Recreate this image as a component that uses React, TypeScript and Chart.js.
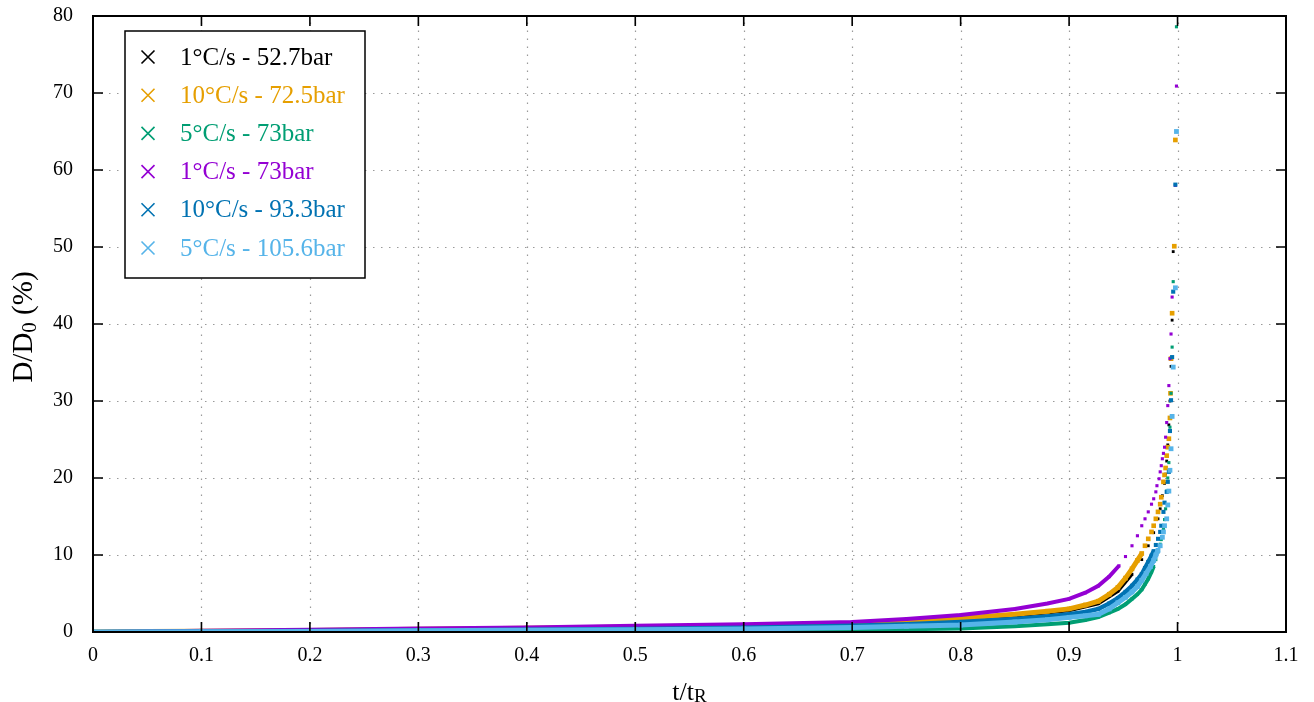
import React, { useEffect, useRef } from "react";
import { Chart, registerables } from "chart.js";

Chart.register(...registerables);

// ---------------- data ----------------
const seriesLabels = [
  "1°C/s - 52.7bar",
  "10°C/s - 72.5bar",
  "5°C/s - 73bar",
  "1°C/s - 73bar",
  "10°C/s - 93.3bar",
  "5°C/s - 105.6bar",
];

const xTickValues = [0, 0.1, 0.2, 0.3, 0.4, 0.5, 0.6, 0.7, 0.8, 0.9, 1, 1.1];
const yTickValues = [0, 10, 20, 30, 40, 50, 60, 70, 80];

// 1°C/s - 52.7bar
const blackT = [0, 0.1, 0.2, 0.3, 0.4, 0.5, 0.6, 0.7, 0.8, 0.85, 0.9, 0.927, 0.945, 0.958, 0.967, 0.973, 0.978, 0.982, 0.984, 0.986, 0.988, 0.989, 0.99, 0.991, 0.992, 0.993, 0.994, 0.995, 0.996];
const blackD = [0, 0.08, 0.18, 0.3, 0.42, 0.58, 0.75, 1.0, 1.6, 2.1, 2.8, 3.7, 5.3, 7.5, 9.4, 11.2, 12.9, 14.7, 16.0, 17.7, 19.3, 20.5, 22.2, 24.3, 26.9, 30.0, 34.5, 40.5, 49.4];

// 10°C/s - 72.5bar
const orangeT = [0, 0.05, 0.1, 0.2, 0.3, 0.4, 0.5, 0.6, 0.7, 0.75, 0.8, 0.85, 0.88, 0.9, 0.915, 0.927, 0.937, 0.945, 0.952, 0.958, 0.963, 0.967, 0.97, 0.973, 0.976, 0.978, 0.98, 0.982, 0.984, 0.985, 0.987, 0.988, 0.989, 0.99, 0.991, 0.992, 0.993, 0.9935, 0.994, 0.995, 0.997, 0.998];
const orangeD = [0, 0.05, 0.1, 0.2, 0.35, 0.5, 0.65, 0.8, 1.1, 1.4, 1.8, 2.3, 2.7, 3.0, 3.5, 4.0, 4.9, 5.8, 7.0, 8.2, 9.3, 10.2, 11.2, 12.1, 13.0, 13.8, 14.7, 15.6, 16.6, 17.5, 19.5, 20.4, 21.3, 22.9, 24.0, 25.1, 27.8, 31.0, 35.5, 41.4, 50.1, 63.9];

// 5°C/s - 73bar
const greenT = [0, 0.1, 0.2, 0.3, 0.4, 0.5, 0.6, 0.7, 0.75, 0.8, 0.85, 0.88, 0.9, 0.915, 0.927, 0.937, 0.945, 0.952, 0.958, 0.963, 0.967, 0.97, 0.973, 0.976, 0.978, 0.98, 0.982, 0.984, 0.985, 0.987, 0.988, 0.989, 0.99, 0.991, 0.992, 0.993, 0.994, 0.995, 0.996, 0.999];
const greenD = [0, 0.02, 0.05, 0.08, 0.1, 0.15, 0.2, 0.27, 0.35, 0.45, 0.75, 1.0, 1.2, 1.55, 1.95, 2.5, 3.0, 3.6, 4.3, 4.9, 5.5, 6.2, 6.9, 7.8, 8.5, 9.4, 10.4, 11.4, 12.0, 13.4, 14.6, 16.0, 18.3, 20.0, 22.0, 26.6, 31.0, 37.0, 45.5, 78.6];

// 1°C/s - 73bar
const purpleT = [0, 0.05, 0.1, 0.2, 0.3, 0.4, 0.5, 0.6, 0.7, 0.75, 0.8, 0.85, 0.88, 0.9, 0.915, 0.927, 0.937, 0.946, 0.952, 0.958, 0.963, 0.967, 0.97, 0.973, 0.976, 0.978, 0.98, 0.981, 0.983, 0.984, 0.985, 0.986, 0.987, 0.988, 0.989, 0.99, 0.991, 0.992, 0.993, 0.994, 0.995, 0.998, 0.999];
const purpleD = [0, 0.08, 0.15, 0.3, 0.45, 0.6, 0.8, 1.0, 1.3, 1.7, 2.2, 3.0, 3.7, 4.3, 5.1, 6.0, 7.2, 8.6, 9.8, 11.2, 12.5, 13.8, 14.7, 15.6, 16.6, 17.3, 18.2, 19.0, 19.9, 20.8, 21.6, 22.5, 23.2, 24.0, 25.3, 27.2, 29.4, 32.0, 35.5, 38.7, 43.5, 58.0, 70.9];

// 10°C/s - 93.3bar
const blueT = [0, 0.1, 0.2, 0.3, 0.4, 0.5, 0.6, 0.7, 0.75, 0.8, 0.85, 0.88, 0.9, 0.915, 0.927, 0.937, 0.945, 0.952, 0.958, 0.963, 0.967, 0.97, 0.973, 0.976, 0.978, 0.98, 0.982, 0.984, 0.985, 0.987, 0.988, 0.99, 0.991, 0.992, 0.993, 0.994, 0.995, 0.996, 0.998];
const blueD = [0, 0.05, 0.12, 0.2, 0.3, 0.4, 0.55, 0.8, 1.0, 1.3, 1.7, 2.0, 2.3, 2.6, 3.0, 3.7, 4.4, 5.2, 6.0, 6.8, 7.5, 8.3, 9.1, 9.9, 10.5, 11.3, 12.1, 13.0, 13.8, 15.6, 16.8, 18.2, 19.5, 20.8, 26.1, 30.1, 35.7, 44.2, 58.1];

// 5°C/s - 105.6bar
const lightBlueT = [0, 0.1, 0.2, 0.3, 0.4, 0.5, 0.6, 0.7, 0.75, 0.8, 0.85, 0.88, 0.9, 0.915, 0.927, 0.937, 0.945, 0.952, 0.958, 0.963, 0.967, 0.971, 0.975, 0.978, 0.98, 0.982, 0.984, 0.986, 0.987, 0.988, 0.99, 0.991, 0.992, 0.993, 0.994, 0.995, 0.996, 0.998, 0.999];
const lightBlueD = [0, 0.03, 0.08, 0.15, 0.22, 0.3, 0.4, 0.6, 0.75, 0.9, 1.3, 1.6, 1.9, 2.1, 2.3, 3.0, 3.8, 4.5, 5.2, 5.9, 6.7, 7.6, 8.5, 9.3, 10.0, 10.6, 11.2, 12.3, 13.0, 13.8, 14.7, 16.5, 18.3, 21.0, 23.8, 28.0, 34.4, 44.7, 65.0];

const seriesT = [blackT, orangeT, greenT, purpleT, blueT, lightBlueT];
const seriesD = [blackD, orangeD, greenD, purpleD, blueD, lightBlueD];

// ---------------- styles ----------------
const seriesColors = ["#000000", "#E69F00", "#009E73", "#9400D3", "#0072B2", "#56B4E9"];
const bandWidths = [3.5, 5, 4, 4, 4.5, 5];
const pointRadii = [2.0, 3.3, 2.2, 2.2, 2.9, 3.4];
const bandLimits = [9, 11, 9, 8.7, 11, 11];
const SERIF = "'Liberation Serif', 'DejaVu Serif', serif";

function drawParts(
  ctx: CanvasRenderingContext2D,
  parts: { text: string; size: number; dy: number }[],
  cx: number,
  cy: number,
  rotate: boolean
) {
  ctx.save();
  ctx.translate(cx, cy);
  if (rotate) ctx.rotate(-Math.PI / 2);
  ctx.fillStyle = "#000";
  ctx.textBaseline = "alphabetic";
  ctx.textAlign = "left";
  let total = 0;
  const widths = parts.map((p) => {
    ctx.font = `${p.size}px ${SERIF}`;
    const w = ctx.measureText(p.text).width;
    total += w;
    return w;
  });
  let x = -total / 2;
  parts.forEach((p, i) => {
    ctx.font = `${p.size}px ${SERIF}`;
    ctx.fillText(p.text, x, p.dy);
    x += widths[i];
  });
  ctx.restore();
}

const framePlugin = {
  id: "gnuplotFrame",
  beforeDatasetsDraw(chart: any) {
    const { ctx, chartArea: a, scales } = chart;
    const xs = scales.x;
    const ys = scales.y;
    ctx.save();
    ctx.strokeStyle = "#9a9a9a";
    ctx.lineWidth = 1.2;
    ctx.setLineDash([1.5, 6.5]);
    xTickValues.forEach((v) => {
      if (v === 0 || v === 1.1) return;
      const px = Math.round(xs.getPixelForValue(v)) + 0.5;
      ctx.beginPath();
      ctx.moveTo(px, a.bottom);
      ctx.lineTo(px, a.top);
      ctx.stroke();
    });
    yTickValues.forEach((v) => {
      if (v === 0 || v === 80) return;
      const py = Math.round(ys.getPixelForValue(v)) + 0.5;
      ctx.beginPath();
      ctx.moveTo(a.left, py);
      ctx.lineTo(a.right, py);
      ctx.stroke();
    });
    ctx.restore();
  },
  afterDatasetsDraw(chart: any) {
    const { ctx, chartArea: a, scales } = chart;
    const xs = scales.x;
    const ys = scales.y;
    ctx.save();
    ctx.strokeStyle = "#000";
    ctx.lineWidth = 1.6;
    const tl = 10;
    xTickValues.forEach((v) => {
      const px = xs.getPixelForValue(v);
      ctx.beginPath();
      ctx.moveTo(px, a.bottom);
      ctx.lineTo(px, a.bottom - tl);
      ctx.moveTo(px, a.top);
      ctx.lineTo(px, a.top + tl);
      ctx.stroke();
    });
    yTickValues.forEach((v) => {
      const py = ys.getPixelForValue(v);
      ctx.beginPath();
      ctx.moveTo(a.left, py);
      ctx.lineTo(a.left + tl, py);
      ctx.moveTo(a.right, py);
      ctx.lineTo(a.right - tl, py);
      ctx.stroke();
    });
    ctx.lineWidth = 2;
    ctx.strokeRect(a.left, a.top, a.right - a.left, a.bottom - a.top);
    ctx.restore();
  },
  afterDraw(chart: any) {
    const { ctx, chartArea: a } = chart;
    // legend box
    const bx = a.left + 32;
    const by = a.top + 15;
    const bw = 240;
    const bh = 247;
    ctx.save();
    ctx.fillStyle = "#fff";
    ctx.fillRect(bx, by, bw, bh);
    ctx.strokeStyle = "#000";
    ctx.lineWidth = 1.5;
    ctx.strokeRect(bx, by, bw, bh);
    seriesLabels.forEach((label, i) => {
      const cy = by + 26 + i * 38.2;
      const mx = bx + 23;
      const s = 6.5;
      ctx.strokeStyle = seriesColors[i];
      ctx.lineWidth = 1.6;
      ctx.beginPath();
      ctx.moveTo(mx - s, cy - s);
      ctx.lineTo(mx + s, cy + s);
      ctx.moveTo(mx - s, cy + s);
      ctx.lineTo(mx + s, cy - s);
      ctx.stroke();
      ctx.fillStyle = seriesColors[i];
      ctx.font = `25px ${SERIF}`;
      ctx.textBaseline = "middle";
      ctx.textAlign = "left";
      ctx.fillText(label, bx + 55, cy + 1);
    });
    ctx.restore();

    // axis titles
    const cx = (a.left + a.right) / 2;
    drawParts(
      ctx,
      [
        { text: "t/t", size: 26, dy: 0 },
        { text: "R", size: 19, dy: 2 },
      ],
      cx,
      700,
      false
    );
    drawParts(
      ctx,
      [
        { text: "D/D", size: 29, dy: 0 },
        { text: "0", size: 21, dy: 4 },
        { text: " (%)", size: 29, dy: 0 },
      ],
      32,
      327,
      true
    );
  },
};

export default function App() {
  const ref = useRef<HTMLCanvasElement>(null);
  useEffect(() => {
    document.body.style.margin = "0";
    const datasets = seriesLabels.map((label, i) => ({
      label,
      data: seriesT[i].map((t, j) => ({ x: t, y: seriesD[i][j] })),
      showLine: true,
      borderColor: seriesColors[i],
      borderWidth: bandWidths[i],
      backgroundColor: seriesColors[i],
      pointBackgroundColor: seriesColors[i],
      pointBorderWidth: 0,
      pointStyle: "rect" as const,
      pointRadius: pointRadii[i],
      tension: 0,
      order: seriesLabels.length - i,
      segment: {
        borderColor: (c: any) =>
          c.p1.parsed.y > bandLimits[i] ? "rgba(0,0,0,0)" : undefined,
      },
    }));
    const chart = new Chart(ref.current!, {
      type: "scatter",
      data: { datasets },
      plugins: [framePlugin],
      options: {
        animation: false,
        responsive: false,
        devicePixelRatio: 1,
        layout: { padding: { top: 16, right: 28, left: 0, bottom: 0 } },
        plugins: { legend: { display: false }, tooltip: { enabled: false } },
        scales: {
          x: {
            type: "linear",
            min: 0,
            max: 1.1,
            afterBuildTicks: (s: any) => {
              s.ticks = xTickValues.map((v) => ({ value: v }));
            },
            afterFit: (s: any) => {
              s.height = 70;
              s.paddingLeft = 0;
              s.paddingRight = 0;
              s.paddingTop = 0;
              s.paddingBottom = 0;
            },
            grid: { display: false, drawTicks: false },
            border: { display: false },
            ticks: {
              padding: 12,
              color: "#000",
              font: { family: SERIF, size: 20 },
              maxRotation: 0,
              autoSkip: false,
              callback: (v: any) => String(parseFloat(Number(v).toFixed(2))),
            },
          },
          y: {
            type: "linear",
            min: 0,
            max: 80,
            afterBuildTicks: (s: any) => {
              s.ticks = yTickValues.map((v) => ({ value: v }));
            },
            afterFit: (s: any) => {
              s.width = 93;
              s.paddingLeft = 0;
              s.paddingRight = 0;
              s.paddingTop = 0;
              s.paddingBottom = 0;
            },
            grid: { display: false, drawTicks: false },
            border: { display: false },
            ticks: {
              padding: 20,
              color: "#000",
              font: { family: SERIF, size: 20 },
              autoSkip: false,
              callback: (v: any) => String(v),
            },
          },
        },
      },
    });
    return () => chart.destroy();
  }, []);
  return (
    <canvas
      ref={ref}
      width={1314}
      height={702}
      style={{ display: "block", width: 1314, height: 702 }}
    />
  );
}
